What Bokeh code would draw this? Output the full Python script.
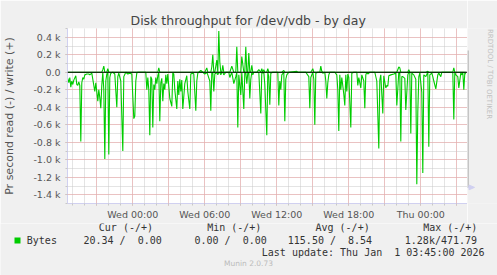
from bokeh.plotting import figure
from bokeh.models import Range1d, FixedTicker, Label, Span
from bokeh.layouts import column, row
from bokeh.embed import file_html
from bokeh.resources import INLINE

# ---- data: 5-minute RRD samples counted from Tue 18:35 ----
sample = [
    0, 1, 2, 3, 4, 5, 6, 8, 9, 10,
    11, 12, 13, 14, 15, 16, 17, 19, 21, 22,
    24, 27, 28, 30, 31, 32, 33, 34, 35, 36,
    37, 38, 39, 40, 41, 42, 43, 45, 47, 49,
    50, 51, 53, 55, 56, 58, 60, 62, 64, 66,
    67, 68, 69, 70, 78, 79, 80, 81, 82, 83,
    84, 85, 86, 87, 88, 89, 90, 91, 92, 93,
    94, 95, 96, 97, 98, 99, 100, 102, 104, 105,
    106, 107, 109, 110, 111, 112, 113, 114, 115, 117,
    119, 120, 122, 123, 125, 126, 128, 129, 130, 131,
    133, 135, 137, 139, 140, 142, 143, 144, 145, 146,
    147, 149, 150, 151, 152, 153, 154, 155, 156, 158,
    161, 162, 164, 166, 168, 169, 170, 171, 173, 174,
    176, 177, 178, 179, 180, 181, 182, 183, 184, 185,
    186, 189, 191, 193, 194, 195, 196, 197, 199, 200,
    201, 202, 203, 205, 210, 211, 212, 213, 214, 216,
    217, 218, 219, 221, 229, 230, 238, 241, 242, 243,
    245, 246, 247, 248, 250, 252, 253, 254, 255, 257,
    258, 259, 260, 261, 262, 267, 269, 270, 271, 272,
    273, 274, 276, 277, 278, 279, 280, 281, 283, 284,
    286, 289, 290, 291, 293, 294, 296, 297, 298, 299,
    300, 302, 307, 309, 311, 312, 313, 315, 316, 318,
    319, 320, 321, 323, 326, 328, 329, 331, 332, 333,
    334, 335, 337, 338, 340, 341, 342, 343, 344, 346,
    348, 349, 350, 351, 352, 354, 355, 356, 358, 360,
    361, 362, 364, 365, 366, 368, 370, 371, 373, 374,
    385, 386, 387, 388, 390, 391, 393, 394, 395, 396,
    397, 398,
]
read_bps = [
    70, 120, 60, 170, 100, 140, 90, 40, 140, 150,
    110, 150, 790, 120, 60, 80, 30, 20, 20, 30,
    10, 220, 120, 330, 200, 290, 410, 150, 0, 200,
    990, 100, 20, 0, 940, 60, 10, 0, 20, 400,
    50, 10, 100, 900, 50, 0, 20, 10, 20, 530,
    500, 100, 10, 0, 0, 200, 60, 200, 720, 50,
    80, 630, 140, 200, 60, 130, 40, 0, 560, 120,
    70, 330, 130, 200, 30, 130, 20, 300, 390, 10,
    20, 200, 420, 100, 260, 80, 220, 90, 420, 130,
    40, 220, 420, 20, 10, 20, 440, 100, 10, 0,
    0, 0, 20, 0, 30, 100, 440, 0, 0, 220,
    20, 0, 30, 0, 0, 30, 0, 0, 30, 0,
    0, 60, 0, 130, 50, 0, 630, 30, 260, 0,
    420, 0, 0, 130, 10, 0, 300, 80, 0, 30,
    0, 0, 0, 470, 0, 10, 0, 140, 720, 0,
    50, 370, 10, 0, 0, 380, 100, 200, 30, 0,
    560, 80, 30, 0, 0, 0, 0, 50, 410, 60,
    0, 80, 600, 10, 0, 0, 0, 0, 10, 0,
    100, 300, 120, 30, 0, 0, 30, 200, 670, 30,
    200, 60, 250, 380, 30, 220, 20, 60, 630, 10,
    0, 0, 150, 60, 180, 30, 100, 410, 30, 0,
    20, 0, 0, 100, 870, 90, 30, 470, 40, 180,
    150, 160, 40, 30, 20, 10, 380, 0, 0, 790,
    50, 50, 70, 430, 30, 0, 10, 700, 10, 30,
    80, 1280, 450, 50, 10, 230, 1150, 30, 50, 0,
    850, 30, 10, 50, 100, 190, 30, 10, 50, 0,
    0, 540, 0, 30, 50, 180, 10, 30, 0, 200,
    10, 20,
]
write_bps = [
    0, 0, 0, 0, 0, 0, 0, 0, 0, 0,
    0, 0, 0, 0, 0, 0, 0, 0, 0, 0,
    0, 0, 0, 0, 0, 0, 0, 0, 30, 70,
    0, 0, 0, 40, 0, 0, 0, 0, 0, 0,
    0, 0, 0, 0, 0, 0, 0, 0, 0, 0,
    0, 0, 0, 0, 0, 0, 0, 0, 0, 0,
    0, 0, 0, 0, 0, 0, 0, 50, 0, 0,
    0, 0, 0, 0, 0, 0, 0, 0, 0, 0,
    0, 0, 0, 0, 0, 0, 0, 0, 0, 0,
    0, 0, 0, 0, 0, 0, 0, 0, 0, 0,
    20, 0, 0, 50, 0, 0, 0, 60, 200, 0,
    0, 140, 0, 470, 120, 0, 0, 80, 0, 0,
    0, 0, 70, 0, 0, 290, 0, 0, 0, 180,
    0, 10, 290, 0, 0, 220, 0, 0, 80, 0,
    0, 0, 30, 0, 40, 0, 30, 0, 0, 40,
    0, 0, 0, 0, 0, 0, 0, 0, 0, 20,
    0, 0, 0, 0, 10, 0, 0, 0, 0, 0,
    40, 0, 0, 0, 0, 0, 70, 10, 0, 0,
    0, 0, 0, 0, 0, 0, 0, 0, 0, 0,
    0, 0, 0, 0, 0, 0, 0, 0, 0, 0,
    0, 0, 0, 0, 0, 0, 0, 0, 0, 0,
    0, 0, 0, 0, 0, 0, 0, 0, 0, 0,
    0, 0, 0, 0, 0, 0, 0, 60, 50, 0,
    0, 0, 0, 0, 0, 30, 0, 0, 0, 0,
    0, 0, 0, 0, 0, 0, 0, 0, 0, 10,
    0, 0, 0, 0, 0, 0, 0, 0, 0, 0,
    0, 50, 0, 0, 0, 0, 0, 0, 0, 0,
    0, 0,
]

y_ticks = [-1400, -1200, -1000, -800, -600, -400, -200, 0, 200, 400]
y_tick_labels = ["-1.4 k", "-1.2 k", "-1.0 k", "-0.8 k", "-0.6 k", "-0.4 k",
                 "-0.2 k", "0.0", "0.2 k", "0.4 k"]
x_tick_hours = [0, 6, 12, 18, 24]
x_tick_labels = ["Wed 00:00", "Wed 06:00", "Wed 12:00", "Wed 18:00", "Thu 00:00"]

legend_headers = ["Cur (-/+)", "Min (-/+)", "Avg (-/+)", "Max (-/+)"]
legend_values = ["20.34 /  0.00", "0.00 /  0.00", "115.50 /  8.54", "1.28k/471.79"]
last_update = "Last update: Thu Jan  1 03:45:00 2026"

# hours relative to Wed 00:00 (first sample = Tue 18:35)
hours = [(s - 65) / 12.0 for s in sample]
neg_read = [-r for r in read_bps]

X0, X1 = -65.3 / 12.0, (400 - 65.3) / 12.0
BG = "#F0F0F0"
AX = "#d0d0f0"
MAJ = "#f0a0a0"
MIN = "#c8c8c8"
GREEN = "#00CC00"


def keep_spaces(s):
    # SVG collapses runs of blanks; keep the fixed-width legend alignment
    return s.replace("  ", "\u00a0\u00a0")


def canvas_fig(w, h, x0, y0):
    """A blank figure whose data space equals canvas pixels (y downward)."""
    f = figure(width=w, height=h, output_backend="svg", toolbar_location=None,
               x_range=Range1d(x0, x0 + w), y_range=Range1d(y0 + h, y0),
               min_border=0, x_axis_type=None, y_axis_type=None)
    f.grid.visible = False
    f.background_fill_color = BG
    f.border_fill_color = BG
    f.outline_line_color = None
    return f


# ---------------- main chart ----------------
p = figure(width=467, height=223, output_backend="svg", toolbar_location=None,
           x_range=Range1d(X0, X1), y_range=Range1d(-1500, 500),
           min_border_left=67, min_border_right=0, min_border_top=28, min_border_bottom=20,
           title="Disk throughput for /dev/vdb - by day")
p.background_fill_color = "white"
p.border_fill_color = BG
p.outline_line_color = None
p.title.align = "left"
p.title.offset = 63
p.title.standoff = 2
p.title.text_font = "DejaVu Sans"
p.title.text_font_size = "12.5px"
p.title.text_font_style = "normal"
p.title.text_color = "#444444"

xt = FixedTicker(ticks=[-3, 0, 3, 6, 9, 12, 15, 18, 21, 24, 27],
                 minor_ticks=list(range(-5, 28)))
p.xaxis.ticker = xt
overrides = {t: "" for t in [-3, 3, 9, 15, 21, 27]}
for h, l in zip(x_tick_hours, x_tick_labels):
    overrides[h] = l
p.xaxis.major_label_overrides = overrides
p.xaxis.axis_line_color = AX
p.xaxis.major_tick_line_color = MAJ
p.xaxis.major_tick_in = 0
p.xaxis.major_tick_out = 2
p.xaxis.minor_tick_line_color = MIN
p.xaxis.minor_tick_in = 0
p.xaxis.minor_tick_out = 2
p.xaxis.major_label_standoff = 3
p.xaxis.major_label_text_font = "DejaVu Sans"
p.xaxis.major_label_text_font_size = "9.5px"
p.xaxis.major_label_text_color = "#555555"

yt = FixedTicker(ticks=y_ticks, minor_ticks=list(range(-1500, 501, 100)))
p.yaxis.ticker = yt
p.yaxis.major_label_overrides = {t: l for t, l in zip(y_ticks, y_tick_labels)}
p.yaxis.axis_line_color = AX
p.yaxis.major_tick_line_color = MAJ
p.yaxis.major_tick_in = 0
p.yaxis.major_tick_out = 2
p.yaxis.minor_tick_line_color = MIN
p.yaxis.minor_tick_in = 0
p.yaxis.minor_tick_out = 2
p.yaxis.major_label_standoff = 5
p.yaxis.major_label_text_font = "DejaVu Sans"
p.yaxis.major_label_text_font_size = "9.5px"
p.yaxis.major_label_text_color = "#555555"
p.yaxis.axis_label = "Pr second read (-) / write (+)"
p.yaxis.axis_label_standoff = 14
p.yaxis.axis_label_text_font = "DejaVu Sans"
p.yaxis.axis_label_text_font_size = "11px"
p.yaxis.axis_label_text_font_style = "normal"
p.yaxis.axis_label_text_color = "#555555"

for g in (p.xgrid[0], p.ygrid[0]):
    g.grid_line_color = MAJ
    g.grid_line_dash = "1 1"
    g.minor_grid_line_color = MIN
    g.minor_grid_line_dash = "1 1"
p.xgrid[0].ticker = xt
p.ygrid[0].ticker = yt

p.line(hours, neg_read, line_color=GREEN, line_width=1.1)
p.line(hours, write_bps, line_color=GREEN, line_width=1.1)
p.add_layout(Span(location=0, dimension="width", line_color="black", line_width=1))

# ---------------- right strip ----------------
fr = canvas_fig(30, 223, 467, 0)
fr.add_layout(Label(x=489, y=58, text="RRDTOOL / TOBI OETIKER", angle=-1.5708,
                    text_align="center", text_baseline="middle", text_font="DejaVu Sans",
                    text_font_size="7px", text_color="#c0c0c0"))
fr.segment(x0=[467.5], y0=[28], x1=[467.5], y1=[203], line_color="#9a9a9a", line_width=1)
fr.segment(x0=[467], y0=[202.5], x1=[470], y1=[202.5], line_color=AX, line_width=1)
fr.patch(x=[468.5, 468.5, 474], y=[199.5, 205.5, 202.5], fill_color=AX, line_color=AX)

# ---------------- legend strip ----------------
fl = canvas_fig(497, 52, 0, 223)
MONO = dict(text_font="DejaVu Sans Mono", text_font_size="10px", text_color="#333333",
            text_baseline="middle", text_align="left")
for X, t in zip([98.3, 206.7, 315, 422.7], legend_headers):
    fl.add_layout(Label(x=X, y=227.3, text=t, **MONO))
fl.quad(left=[14], right=[20], top=[237], bottom=[243], fill_color=GREEN, line_color=None)
fl.add_layout(Label(x=26.3, y=239.7, text="Bytes", **MONO))
for X, t in zip([83, 194, 287.3, 404.3], legend_values):
    fl.add_layout(Label(x=X, y=239.7, text=keep_spaces(t), **MONO))
fl.add_layout(Label(x=261.3, y=251.7, text=keep_spaces(last_update), **MONO))
fl.add_layout(Label(x=248, y=263.3, text="Munin 2.0.73", text_align="center",
                    text_baseline="middle", text_font="DejaVu Sans", text_font_size="7.5px",
                    text_color="#bbbbbb"))

layout = column(row(p, fr), fl)
open("out.html", "w").write(file_html(layout, INLINE))
